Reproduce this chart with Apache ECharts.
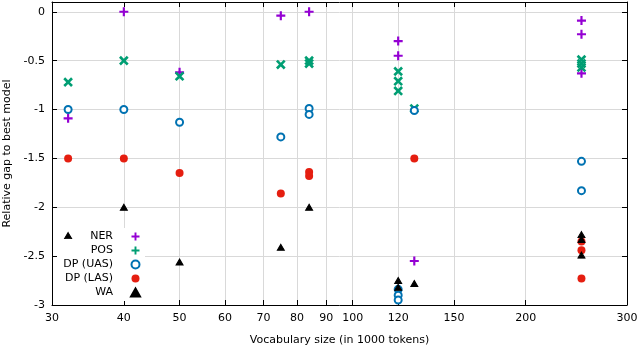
<!DOCTYPE html>
<html>
<head>
<meta charset="utf-8">
<script src="https://cdn.jsdelivr.net/npm/echarts@6/dist/echarts.min.js"></script>
<style>html,body{margin:0;padding:0;background:#fff}#c{width:640px;height:347px}</style>
</head>
<body>
<div id="c"></div>
<script>
const xTicks = [30, 40, 50, 60, 70, 80, 90, 100, 120, 150, 200, 300];
const yTicks = [-3, -2.5, -2, -1.5, -1, -0.5, 0];

const nerX = [32, 40, 50, 75, 84, 120, 120, 128, 250, 250, 250];
const nerY = [-1.09, 0, -0.62, -0.04, 0, -0.30, -0.45, -2.55, -0.09, -0.23, -0.63];
const posX = [32, 40, 50, 75, 84, 84, 120, 120, 120, 128, 250, 250, 250];
const posY = [-0.72, -0.5, -0.66, -0.54, -0.50, -0.53, -0.61, -0.71, -0.81, -0.99, -0.49, -0.53, -0.57];
const uasX = [32, 40, 50, 75, 84, 84, 120, 120, 120, 128, 250, 250];
const uasY = [-1.0, -1.0, -1.13, -1.28, -0.99, -1.05, -2.84, -2.90, -2.95, -1.01, -1.53, -1.83];
const lasX = [32, 40, 50, 75, 84, 84, 128, 250, 250, 250];
const lasY = [-1.5, -1.5, -1.65, -1.86, -1.64, -1.68, -1.5, -2.35, -2.44, -2.73];
const waX = [32, 40, 50, 75, 84, 120, 120, 128, 250, 250, 250];
const waY = [-2.29, -2.0, -2.56, -2.41, -2.0, -2.75, -2.82, -2.78, -2.28, -2.33, -2.49];

const zip = (a, b) => a.map((v, i) => [v, b[i]]);
const FONT = 'DejaVu Sans';
const PLUS = 'path://M3.8,0h2.4v3.8h3.8v2.4h-3.8v3.8h-2.4v-3.8h-3.8v-2.4h3.8z';

const chart = echarts.init(document.getElementById('c'), null, {renderer: 'canvas'});
const baseX = {
  type: 'log', logBase: 10, min: 30, max: 300,
  axisLine: {show: true, onZero: false, lineStyle: {color: '#000', width: 1}},
  axisTick: {show: true, inside: true, length: 5, customValues: xTicks, lineStyle: {color: '#000'}},
  minorTick: {show: false}
};
const baseY = {
  type: 'value', min: -3, max: 0.1,
  axisLine: {show: true, onZero: false, lineStyle: {color: '#000', width: 1}},
  axisTick: {show: true, inside: true, length: 5, customValues: yTicks, lineStyle: {color: '#000'}}
};
chart.setOption({
  animation: false,
  textStyle: {fontFamily: FONT},
  grid: {left: 52, right: 13, top: 2, bottom: 42, containLabel: false, outerBoundsMode: 'none'},
  xAxis: [
    Object.assign({}, baseX, {
      position: 'bottom',
      name: 'Vocabulary size (in 1000 tokens)', nameLocation: 'middle', nameGap: 30,
      nameTextStyle: {fontFamily: FONT, fontSize: 11, color: '#000'},
      axisLabel: {customValues: xTicks, fontFamily: FONT, fontSize: 11, color: '#000', margin: 8,
        formatter: v => String(Math.round(v))},
      splitLine: {show: true, lineStyle: {color: '#d9d9d9', width: 1}}
    }),
    Object.assign({}, baseX, {
      position: 'top', axisLabel: {show: false}, splitLine: {show: false}
    })
  ],
  yAxis: [
    Object.assign({}, baseY, {
      position: 'left',
      name: 'Relative gap to best model', nameLocation: 'middle', nameGap: 39, nameRotate: 90,
      nameTextStyle: {fontFamily: FONT, fontSize: 11, color: '#000'},
      axisLabel: {customValues: yTicks, fontFamily: FONT, fontSize: 11, color: '#000', margin: 7},
      splitLine: {show: true, lineStyle: {color: '#d9d9d9', width: 1}}
    }),
    Object.assign({}, baseY, {
      position: 'right', axisLabel: {show: false}, splitLine: {show: false}
    })
  ],
  legend: {
    orient: 'vertical', left: 57, top: 228, align: 'right', z: 1,
    itemWidth: 9, itemHeight: 8, itemGap: 1,
    backgroundColor: '#fff', padding: [2, 4, 2, 4],
    textStyle: {fontFamily: FONT, fontSize: 11, color: '#000', width: 52, align: 'right', lineHeight: 13, padding: [0, 13, 0, 0]},
    data: ['NER', 'POS', 'DP (UAS)', 'DP (LAS)', 'WA']
  },
  series: [
    {name: 'NER', type: 'scatter', z: 3, data: zip(nerX, nerY), symbol: PLUS, symbolSize: 9,
      itemStyle: {color: '#9400d3', opacity: 1}},
    {name: 'POS', type: 'scatter', z: 3, data: zip(posX, posY), symbol: PLUS, symbolSize: 11, symbolRotate: 45,
      itemStyle: {color: '#009e73', opacity: 1}},
    {name: 'DP (UAS)', type: 'scatter', z: 3, data: zip(uasX, uasY), symbol: 'emptyCircle', symbolSize: 7,
      itemStyle: {color: '#0072b2', borderColor: '#0072b2', borderWidth: 2, opacity: 1}},
    {name: 'DP (LAS)', type: 'scatter', z: 3, data: zip(lasX, lasY), symbol: 'circle', symbolSize: 8,
      itemStyle: {color: '#e51e10', opacity: 1}},
    {name: 'WA', type: 'scatter', z: 3, data: zip(waX, waY), symbol: 'triangle', symbolSize: [7, 6],
      itemStyle: {color: '#000', borderColor: '#000', borderWidth: 1, opacity: 1}}
  ]
});
</script>
</body>
</html>
